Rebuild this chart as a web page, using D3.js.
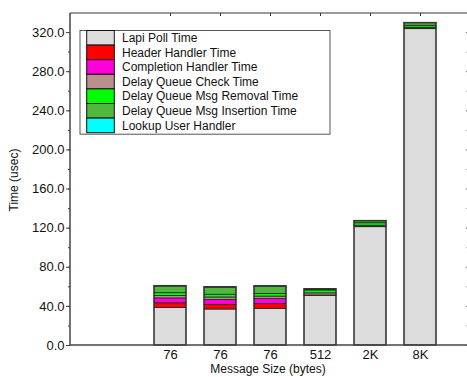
<!DOCTYPE html>
<html>
<head>
<meta charset="utf-8">
<script src="https://cdn.jsdelivr.net/npm/d3@7"></script>
<style>
body { margin: 0; background: #fff; }
svg { display: block; font-family: "Liberation Sans", Arial, sans-serif; }
</style>
</head>
<body>
<svg width="467" height="377"></svg>
<script>
// categories (message sizes) and their slot on the x axis
var categories = ["76", "76", "76", "512", "2K", "8K"];
var slots = [2, 3, 4, 5, 6, 7];

var seriesNames = ["Lapi Poll Time", "Header Handler Time", "Completion Handler Time",
    "Delay Queue Check Time", "Delay Queue Msg Removal Time",
    "Delay Queue Msg Insertion Time", "Lookup User Handler"];
var seriesColors = ["#dcdcdc", "#ff0000", "#ff00dd", "#bc8f8f", "#00ff00", "#50b83c", "#00ffff"];

// values in usec, one per category
var lapiPoll   = [38.5, 36.8, 37.5, 50.8, 121.0, 323.5];
var headerH    = [4.7, 4.8, 4.8, 0.3, 0.3, 0.5];
var complH     = [5.0, 5.0, 5.2, 0.0, 0.0, 0.0];
var dqCheck    = [2.5, 2.5, 2.5, 2.2, 1.2, 1.0];
var dqRemoval  = [2.8, 2.8, 2.8, 3.0, 2.5, 2.0];
var dqInsert   = [6.8, 7.2, 7.3, 1.0, 2.0, 2.5];
var lookupUser = [0.5, 0.5, 0.5, 0.3, 0.3, 0.3];

var yTicks = [0, 40, 80, 120, 160, 200, 240, 280, 320];

var svg = d3.select("svg");
var pLeft = 70, pRight = 467, pTop = 13, pBottom = 345;

var x = d3.scaleLinear().domain([0, 8]).range([pLeft, pLeft + 400]);
var y = d3.scaleLinear().domain([0, 339.5]).range([pBottom, pTop]);

var allSeries = [lapiPoll, headerH, complH, dqCheck, dqRemoval, dqInsert, lookupUser];
var rows = categories.map(function(c, i) {
    var r = { cat: c, slot: slots[i] };
    seriesNames.forEach(function(n, k) { r[n] = allSeries[k][i]; });
    return r;
});
var stacked = d3.stack().keys(seriesNames)(rows);

var barW = 32;
var g = svg.append("g");
stacked.forEach(function(layer, k) {
    g.selectAll(".s" + k)
        .data(layer)
        .enter().append("rect")
        .attr("x", function(d) { return x(d.data.slot) - barW / 2; })
        .attr("y", function(d) { return y(d[1]); })
        .attr("width", barW)
        .attr("height", function(d) { return Math.max(0, y(d[0]) - y(d[1])); })
        .attr("fill", seriesColors[k])
        .attr("stroke", "#222")
        .attr("stroke-width", function(d) { return (d[1] - d[0]) > 0 ? 0.8 : 0; });
});
// bar outlines
g.selectAll(".outline")
    .data(stacked[stacked.length - 1])
    .enter().append("rect")
    .attr("x", function(d) { return x(d.data.slot) - barW / 2; })
    .attr("y", function(d) { return y(d[1]); })
    .attr("width", barW)
    .attr("height", function(d) { return y(0) - y(d[1]); })
    .attr("fill", "none")
    .attr("stroke", "#333")
    .attr("stroke-width", 1.2);

// axes
var minor = d3.range(0, 340, 20);
var yl = svg.append("g").attr("transform", "translate(" + pLeft + ",0)")
    .call(d3.axisLeft(y).tickValues(minor).tickSize(2).tickFormat(""));
yl.select(".domain").remove();
yl.selectAll("line").attr("stroke", "#444");
var yAxis = svg.append("g").attr("transform", "translate(" + pLeft + ",0)")
    .call(d3.axisLeft(y).tickValues(yTicks).tickSize(4).tickPadding(1.5)
        .tickFormat(function(d) { return d.toFixed(1); }));
yAxis.selectAll("text").attr("font-size", "13px").attr("font-family", "Liberation Sans, Arial, sans-serif").attr("fill", "#111");
yAxis.select(".domain").attr("d", "M0," + pBottom + "V" + pTop).attr("stroke", "#444").attr("stroke-width", 1.5);
yAxis.selectAll("line").attr("stroke", "#444");

var yr = svg.append("g").attr("transform", "translate(" + (pRight - 0.5) + ",0)")
    .call(d3.axisLeft(y).tickValues(minor).tickSize(-2).tickFormat(""));
yr.select(".domain").remove();
yr.selectAll("line").attr("stroke", "#444");
var yr2 = svg.append("g").attr("transform", "translate(" + (pRight - 0.5) + ",0)")
    .call(d3.axisLeft(y).tickValues(yTicks).tickSize(-3).tickFormat(""));
yr2.select(".domain").remove();
yr2.selectAll("line").attr("stroke", "#333");

var xAxis = svg.append("g").attr("transform", "translate(0," + pBottom + ")")
    .call(d3.axisBottom(x).tickValues(slots).tickSize(0).tickPadding(5)
        .tickFormat(function(d, i) { return categories[i]; }));
xAxis.select(".domain").attr("d", "M" + pLeft + ",0H" + pRight).attr("stroke", "#444").attr("stroke-width", 1.5);
xAxis.selectAll("text").attr("font-size", "13px").attr("font-family", "Liberation Sans, Arial, sans-serif").attr("fill", "#111");

var xTop = svg.append("g").attr("transform", "translate(0," + pTop + ")")
    .call(d3.axisTop(x).tickValues(slots).tickSize(-3).tickFormat(""));
xTop.select(".domain").attr("d", "M" + pLeft + ",0H" + pRight).attr("stroke", "#333").attr("stroke-width", 1);
xTop.selectAll("line").attr("stroke", "#333");

// axis titles
svg.append("text")
    .attr("x", 268).attr("y", 373)
    .attr("text-anchor", "middle")
    .attr("font-size", "12px")
    .attr("fill", "#111")
    .text("Message Size (bytes)");
svg.append("text")
    .attr("transform", "translate(18,180) rotate(-90)")
    .attr("text-anchor", "middle")
    .attr("font-size", "12px")
    .attr("fill", "#111")
    .text("Time (usec)");

// legend
var lg = svg.append("g");
var rowH = 14.6, lx = 80, ly = 30.5;
lg.append("rect")
    .attr("x", lx).attr("y", ly)
    .attr("width", 250).attr("height", rowH * 7 + 1.5)
    .attr("fill", "#fff").attr("stroke", "#555").attr("stroke-width", 1);
seriesNames.forEach(function(n, k) {
    lg.append("rect")
        .attr("x", 86.7).attr("y", ly + k * rowH)
        .attr("width", 27.6).attr("height", rowH)
        .attr("fill", seriesColors[k])
        .attr("stroke", "#111").attr("stroke-width", 1);
    lg.append("text")
        .attr("x", 122).attr("y", ly + k * rowH + 11.5)
        .attr("font-size", "12px")
        .attr("fill", "#111")
        .text(n);
});
</script>
</body>
</html>
